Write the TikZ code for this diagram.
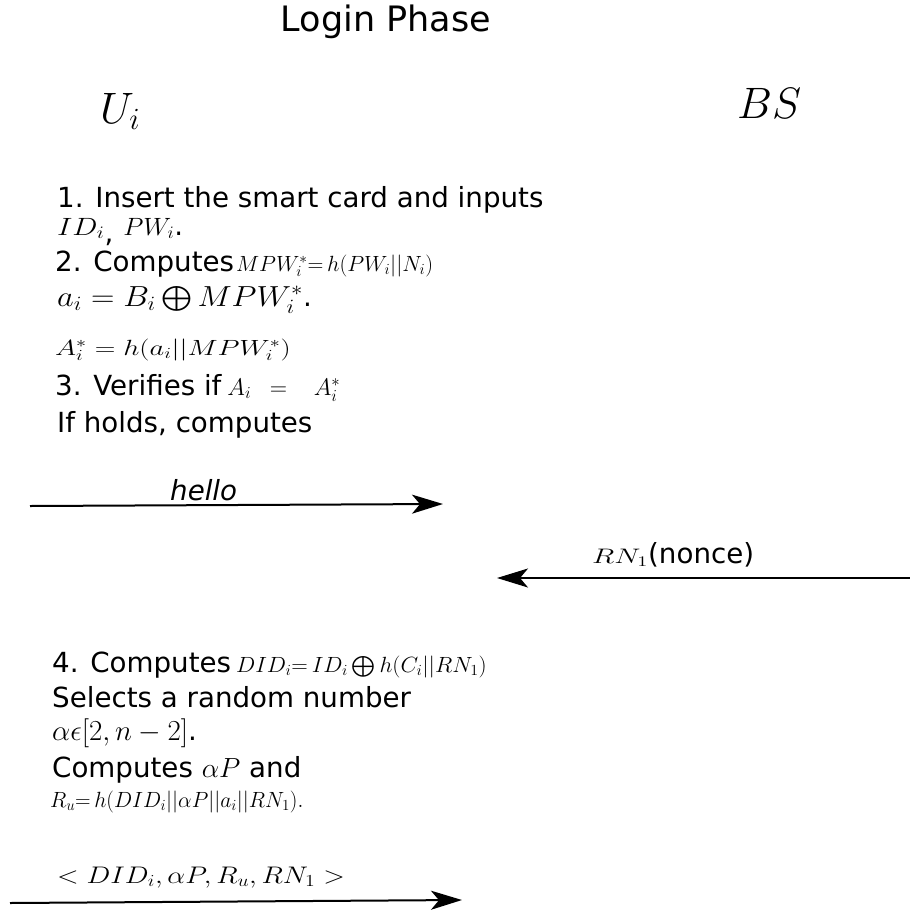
\RequirePackage{fix-cm}
\documentclass[tikz,border=0pt]{standalone}
\usepackage{amsmath}
\usepackage{fontspec}
\setmainfont{DejaVu Sans}
\usepackage{graphicx}
\usetikzlibrary{arrows.meta}
% #1 size, #2 horizontal stretch, #3 formula
\newcommand{\mathat}[3]{\scalebox{#2}[1]{\fontsize{#1}{#1}\selectfont$#3$}}
\newcommand{\nodepth}[1]{\raisebox{0pt}[\height][0pt]{#1}}
\begin{document}
\begin{tikzpicture}[x=1pt,y=-1pt,
  txt/.style={anchor=base west, inner sep=0pt, font=\fontsize{27.7}{32}\selectfont},
  actor/.style={anchor=base west, inner sep=0pt, font=\fontsize{44}{50}\selectfont},
  msg/.style={line width=2pt, -{Stealth[length=31pt,width=19pt,inset=8pt]}},
]
\useasboundingbox (0,0) rectangle (910,916);

\node[anchor=base, inner sep=0pt, font=\fontsize{35}{40}\selectfont] (title) at (386,31) {Login Phase};
\node[actor] (ui) at (100,123) {$U_i$};
\node[actor] (bs) at (737,118) {$BS$};

\node[txt] (l1) at (57,207) {1. Insert the smart card and inputs};
\node[txt] (l2) at (57,235) {\nodepth{\mathat{25}{1.2}{ID_i}}\raisebox{-7pt}[0pt][0pt]{,}\hspace{10pt}\nodepth{\mathat{25}{1.05}{PW_i}}.};
\node[txt] (l3) at (55,271) {2. Computes\hspace{2pt}\nodepth{\mathat{22}{1}{MPW_i^*{=}\,h(PW_i||N_i)}}};
\node[txt] (l4) at (57,306) {\mathat{29}{1.12}{a_i = B_i \bigoplus MPW_i^*}.};
\node[txt] (l5) at (55,355) {\mathat{22}{1.3}{A_i^* = h(a_i||MPW_i^*)}};
\node[txt] (l6) at (55,395) {3. Verifies if\hspace{6pt}\mathat{24}{1}{A_i\mkern14mu{=}\mkern20mu A_i^*}};
\node[txt] (l7) at (57,432) {If holds, computes};

\node[txt] (hello) at (170,500) {\textit{hello}};
\coordinate (h1) at (30,506);
\coordinate (h2) at (443,504);
\draw[msg] (h1) -- (h2);

\node[txt] (nonce) at (592,563) {\mathat{21}{1.4}{RN_1}(nonce)};
\coordinate (r1) at (910,578);
\coordinate (r2) at (497,578);
\draw[msg] (r1) -- (r2);

\node[txt] (l8) at (52,672) {4. Computes\hspace{5pt}\mathat{22}{1.04}{DID_i{=}\,ID_i \bigoplus h(C_i||RN_1)}};
\node[txt] (l9) at (52,707) {Selects a random number};
\node[txt] (l10) at (52,740) {\mathat{29}{1}{\alpha\epsilon[2,n-2]}.};
\node[txt] (l11) at (52,777) {Computes $\alpha P$ and};
\node[txt] (l12) at (50,807) {\mathat{22}{0.98}{R_u{=}\,h(DID_i||\alpha P||a_i||RN_1).}};

\node[txt] (m) at (57,883) {\mathat{24}{1.18}{<DID_i,\alpha P,R_u,RN_1>}};
\coordinate (m1) at (10,903);
\coordinate (m2) at (462,900);
\draw[msg] (m1) -- (m2);
\end{tikzpicture}
\end{document}
